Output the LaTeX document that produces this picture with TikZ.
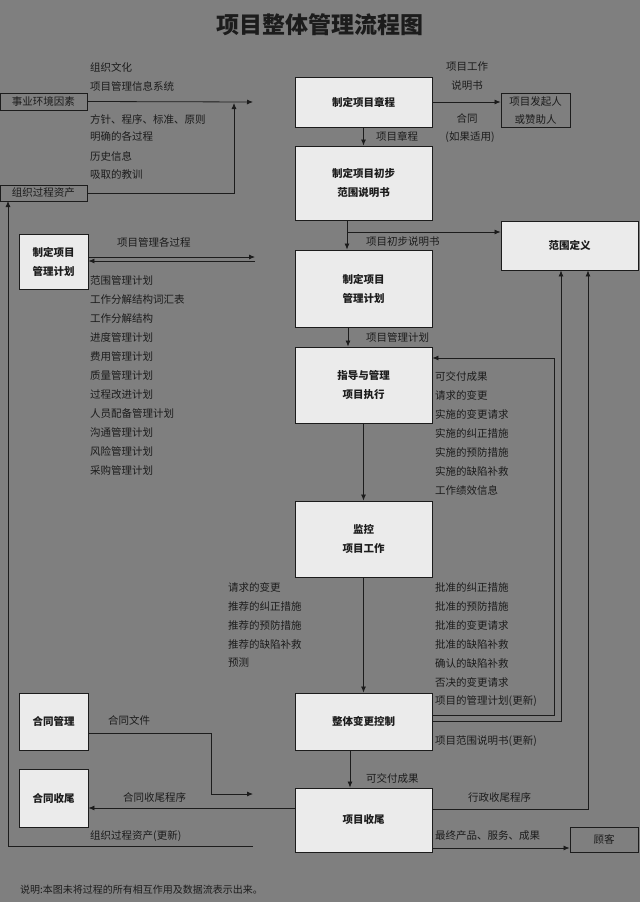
\documentclass[tikz,border=0pt]{standalone}
\usepackage{fontspec}
\setmainfont{Noto Sans CJK SC}
\usetikzlibrary{arrows.meta}
\definecolor{bg}{HTML}{7F7F7F}
\definecolor{boxf}{HTML}{EBEBEB}
\definecolor{ink}{HTML}{1C1C1C}
\begin{document}
\begin{tikzpicture}[x=1pt,y=-1pt,
  box/.style={draw=ink,line width=0.9pt,fill=boxf,align=center,font=\bfseries\fontsize{10.5}{19}\selectfont,text=ink,inner sep=0pt},
  gbox/.style={draw=ink,line width=0.9pt,fill=bg,align=center,font=\fontsize{10.5}{16}\selectfont,text=ink,inner sep=0pt},
  lbl/.style={anchor=west,font=\fontsize{10.5}{12}\selectfont,text=ink,inner sep=0pt},
  ln/.style={draw=ink,line width=0.8pt},
  ar/.style={ln,-{Latex[length=6pt,width=5pt]}}]
\fill[bg] (0,0) rectangle (640,902);
\useasboundingbox (0,0) rectangle (640,902);
\node[font=\bfseries\fontsize{23}{26}\selectfont,text=ink] (title) at (320,25) {项目整体管理流程图};
% main boxes
\node[box,minimum width=137pt,minimum height=50pt] (b1) at (363.5,102) {制定项目章程};
\node[box,minimum width=137pt,minimum height=74pt] (b2) at (363.5,183) {制定项目初步\\范围说明书};
\node[box,minimum width=137pt,minimum height=77pt] (b3) at (363.5,288.5) {制定项目\\管理计划};
\node[box,minimum width=137pt,minimum height=76pt] (b4) at (363.5,385) {指导与管理\\项目执行};
\node[box,minimum width=137pt,minimum height=76pt] (b5) at (363.5,539) {监控\\项目工作};
\node[box,minimum width=137pt,minimum height=57pt] (b6) at (363.5,721.5) {整体变更控制};
\node[box,minimum width=137pt,minimum height=64pt] (b7) at (363.5,820) {项目收尾};
\node[box,minimum width=137pt,minimum height=49pt] (fw) at (569.5,245.5) {范围定义};
\node[box,minimum width=69pt,minimum height=55pt] (pm) at (53.5,261.5) {制定项目\\管理计划};
\node[box,minimum width=69pt,minimum height=57pt] (hg) at (53.5,721.5) {合同管理};
\node[box,minimum width=69pt,minimum height=58pt] (hs) at (53.5,798) {合同收尾};
\node[gbox,minimum width=87pt,minimum height=17pt] (sy) at (43.5,101.5) {事业环境因素};
\node[gbox,minimum width=87pt,minimum height=16pt] (zz) at (43.5,193) {组织过程资产};
\node[gbox,minimum width=69pt,minimum height=34pt,font=\fontsize{10.5}{18}\selectfont] (fq) at (535.5,110) {项目发起人\\或赞助人};
\node[gbox,minimum width=68pt,minimum height=25pt] (gk) at (604,839.5) {顾客};
% left inputs
\coordinate (c1) at (253,102);
\draw[ar] (sy.east) -- (c1);
\coordinate (c2) at (234,103);
\draw[ar] (zz.east) -- (zz.east -| c2) -- (c2);
\node[lbl] (t1) at (90,67) {组织文化};
\node[lbl] (t2) at (90,86) {项目管理信息系统};
\node[lbl] (t3) at (90,119) {方针、程序、标准、原则};
\node[lbl] (t4) at (90,137) {明确的各过程};
\node[lbl] (t5) at (90,156) {历史信息};
\node[lbl] (t6) at (90,175) {吸取的教训};
% charter
\draw[ar] (b1.east) -- (fq.west |- b1.east);
\node[lbl,anchor=center] (t7) at (467,67) {项目工作};
\node[lbl,anchor=center] (t8) at (467,86) {说明书};
\node[lbl,anchor=center] (t9) at (467,119) {合同};
\node[lbl,anchor=center] (t10) at (470,137) {(如果适用)};
\draw[ar] (b1.south) -- (b2.north);
\node[lbl] (t11) at (376,136) {项目章程};
\draw[ar] ([xshift=-16.5pt]b2.south) -- ([xshift=-16.5pt]b3.north);
\coordinate (c3) at (347,232);
\draw[ar] (c3) -- (c3 -| fw.west);
\node[lbl] (t12) at (366,242) {项目初步说明书};
% pm box arrows
\coordinate (c4) at (255,257);
\coordinate (c5) at (255,261);
\draw[ar] (pm.east |- c4) -- (c4);
\draw[ar] (c5) -- (pm.east |- c5);
\node[lbl] (t13) at (117,242) {项目管理各过程};
\foreach \s [count=\i] in {范围管理计划,工作分解结构词汇表,工作分解结构,进度管理计划,费用管理计划,质量管理计划,过程改进计划,人员配备管理计划,沟通管理计划,风险管理计划,采购管理计划}
  \node[lbl] (p\i) at (90,280+19.05*\i-19.05) {\s};
\draw[ar] ([xshift=-15.5pt]b3.south) -- ([xshift=-15.5pt]b4.north);
\node[lbl] (t14) at (366,337) {项目管理计划};
% execution
\draw[ar] (b4.south) -- (b5.north);
\foreach \s [count=\i] in {可交付成果,请求的变更,实施的变更请求,实施的纠正措施,实施的预防措施,实施的缺陷补救,工作绩效信息}
  \node[lbl] (e\i) at (435,376+19*\i-19) {\s};
\draw[ar] (b5.south) -- (b6.north);
\foreach \s [count=\i] in {请求的变更,推荐的纠正措施,推荐的预防措施,推荐的缺陷补救,预测}
  \node[lbl] (m\i) at (228,587+19*\i-19) {\s};
\foreach \s [count=\i] in {批准的纠正措施,批准的预防措施,批准的变更请求,批准的缺陷补救,确认的缺陷补救,否决的变更请求,项目的管理计划(更新)}
  \node[lbl] (r\i) at (435,587+19*\i-19) {\s};
\node[lbl] (t15) at (435,741) {项目范围说明书(更新)};
% feedback loops
\draw[ar] (b6.east |- 0,715) -- (554,715) -- (554,358) -- (b4.east |- 0,358);
\draw[ar] (b6.east |- 0,721) -- (561,721) -- (fw.south -| 561,0);
\draw[ar] (b7.east |- 0,809) -- (588,809) -- (fw.south -| 588,0);
\node[lbl] (t16) at (468,797) {行政收尾程序};
% change -> closing
\draw[ar] ([xshift=-13.5pt]b6.south) -- ([xshift=-13.5pt]b7.north);
\node[lbl] (t17) at (366,778) {可交付成果};
% contracts
\coordinate (c6) at (253,794);
\draw[ar] (hg.east |- 0,733) -- (211,733) -- (211,794) -- (c6);
\node[lbl] (t18) at (108,720) {合同文件};
\draw[ar] (b7.west |- 0,808) -- (hs.east |- 0,808);
\node[lbl] (t19) at (123,797) {合同收尾程序};
\coordinate (c7) at (253,846);
\draw[ar] (c7) -- (8,846) -- (8 ,201);
\node[lbl] (t20) at (90,836) {组织过程资产(更新)};
\draw[ar] (b7.east |- 0,848) -- (gk.west |- 0,848);
\node[lbl] (t21) at (435,836) {最终产品、服务、成果};
\node[lbl,font=\fontsize{10}{12}\selectfont] (note) at (20,890) {说明:本图未将过程的所有相互作用及数据流表示出来。};
\end{tikzpicture}
\end{document}
